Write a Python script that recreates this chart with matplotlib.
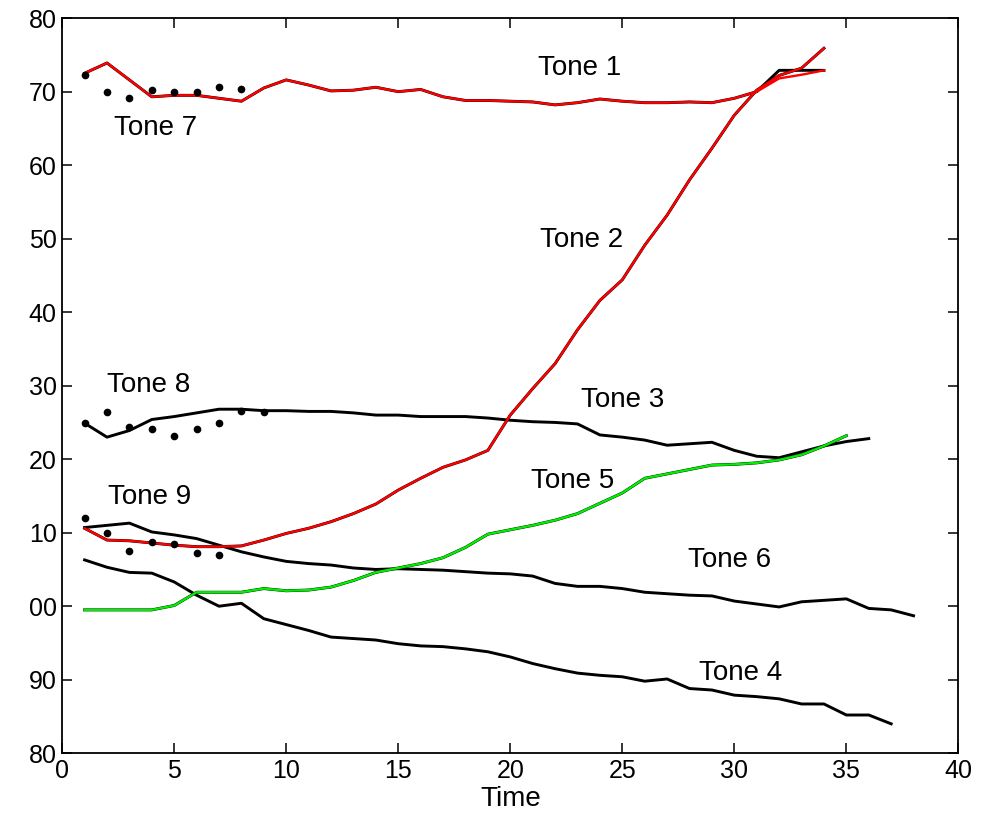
import matplotlib
matplotlib.use('Agg')
import matplotlib.pyplot as plt
import numpy as np

plt.rcParams['font.family'] = ['Liberation Sans', 'DejaVu Sans']

# pitch values (tick labels show value mod 100)
tone1_true = [172.5, 173.9, 171.6, 169.3, 169.5, 169.5, 169.1, 168.7, 170.5, 171.6,
              170.9, 170.1, 170.2, 170.6, 170.0, 170.3, 169.3, 168.8, 168.8, 168.7,
              168.6, 168.2, 168.5, 169.0, 168.7, 168.5, 168.5, 168.6, 168.5, 169.1,
              170.0, 172.9, 172.9, 172.9]
tone1_est = [172.5, 173.9, 171.6, 169.3, 169.5, 169.5, 169.1, 168.7, 170.5, 171.6,
             170.9, 170.1, 170.2, 170.6, 170.0, 170.3, 169.3, 168.8, 168.8, 168.7,
             168.6, 168.2, 168.5, 169.0, 168.7, 168.5, 168.5, 168.6, 168.5, 169.1,
             170.0, 171.8, 172.3, 172.9]
tone2 = [110.6, 109.0, 108.9, 108.6, 108.3, 108.1, 108.1, 108.2, 109.0, 109.9,
         110.6, 111.5, 112.6, 113.9, 115.8, 117.4, 118.9, 119.9, 121.2, 126.0,
         129.6, 133.0, 137.6, 141.6, 144.4, 149.1, 153.2, 158.0, 162.3, 166.8,
         170.2, 172.2, 173.2, 175.9]
tone3 = [124.9, 123.0, 123.9, 125.4, 125.8, 126.3, 126.8, 126.8, 126.6, 126.6,
         126.5, 126.5, 126.3, 126.0, 126.0, 125.8, 125.8, 125.8, 125.6, 125.3,
         125.1, 125.0, 124.8, 123.3, 123.0, 122.6, 121.9, 122.1, 122.3, 121.2,
         120.4, 120.2, 121.0, 121.8, 122.4, 122.8]
tone4 = [106.3, 105.3, 104.6, 104.5, 103.3, 101.5, 100.0, 100.4, 98.3, 97.5,
         96.7, 95.8, 95.6, 95.4, 94.9, 94.6, 94.5, 94.2, 93.8, 93.1,
         92.2, 91.5, 90.9, 90.6, 90.4, 89.8, 90.1, 88.8, 88.6, 87.9,
         87.7, 87.4, 86.7, 86.7, 85.2, 85.2, 84.0]
tone5 = [99.5, 99.5, 99.5, 99.5, 100.1, 101.9, 101.9, 101.9, 102.4, 102.1,
         102.2, 102.6, 103.5, 104.6, 105.2, 105.8, 106.6, 108.0, 109.8, 110.4,
         111.0, 111.7, 112.6, 114.0, 115.4, 117.4, 118.0, 118.6, 119.2, 119.3,
         119.5, 119.9, 120.6, 121.8, 123.2]
tone6 = [110.7, 111.0, 111.3, 110.1, 109.7, 109.2, 108.3, 107.4, 106.7, 106.1,
         105.8, 105.6, 105.2, 105.0, 105.1, 105.0, 104.9, 104.7, 104.5, 104.4,
         104.1, 103.1, 102.7, 102.7, 102.4, 101.9, 101.7, 101.5, 101.4, 100.7,
         100.3, 99.9, 100.6, 100.8, 101.0, 99.7, 99.5, 98.7]
tone7_obs = [172.2, 169.9, 169.1, 170.2, 169.9, 169.9, 170.6, 170.3]
tone8_obs = [124.9, 126.4, 124.4, 124.1, 123.1, 124.1, 124.9, 126.5, 126.4]
tone9_obs = [112.0, 109.9, 107.5, 108.7, 108.4, 107.2, 106.9]

labels = ["Tone 1", "Tone 7", "Tone 2", "Tone 8", "Tone 3",
          "Tone 5", "Tone 9", "Tone 6", "Tone 4"]
label_t = [23.1, 4.15, 23.2, 3.85, 25.0, 22.8, 3.9, 29.8, 30.3]
label_v = [173.2, 165.0, 149.8, 130.1, 128.0, 117.1, 114.8, 106.3, 90.9]

yticks = np.arange(80, 181, 10)
ytick_labels = ["%02d" % (v % 100) for v in yticks]


def t(vals):
    return np.arange(1, len(vals) + 1)


fig = plt.figure(figsize=(9.87, 8.25), dpi=100)
ax = fig.add_axes([0.063, 0.087, 0.908, 0.891])

# true tracks (black) under estimates
for vals in [tone1_true, tone2, tone3, tone4, tone5, tone6]:
    ax.plot(t(vals), vals, color='black', lw=2.1, zorder=2)
ax.plot(t(tone1_est), tone1_est, color='#ff0000', lw=1.7, zorder=3)
ax.plot(t(tone2), tone2, color='#ff0000', lw=1.7, zorder=3)
ax.plot(t(tone5), tone5, color='#00ee00', lw=1.7, zorder=3)

for obs in [tone7_obs, tone8_obs, tone9_obs]:
    ax.plot(t(obs), obs, 'o', color='black', ms=4.5, zorder=4)

for txt, x, y in zip(labels, label_t, label_v):
    ax.text(x, y, txt, fontsize=20, ha='center', va='center')

ax.set_xlim(0, 40)
ax.set_ylim(80, 180)
ax.set_xticks(np.arange(0, 41, 5))
ax.set_yticks(yticks)
ax.set_yticklabels(ytick_labels)
ax.tick_params(direction='in', length=7, width=1.1, top=True, right=True,
               labelsize=18, pad=4)
for s in ax.spines.values():
    s.set_linewidth(1.3)
ax.set_xlabel("Time", fontsize=20, labelpad=2)

fig.savefig("out.png", dpi=100)
